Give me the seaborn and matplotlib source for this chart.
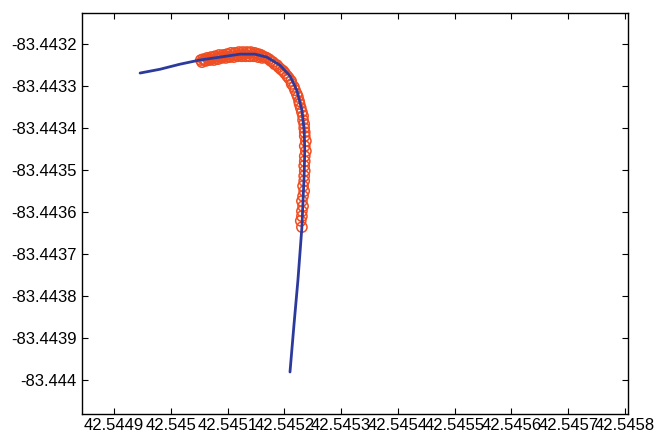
import numpy as np
import pandas as pd
import matplotlib
matplotlib.use("Agg")
import matplotlib.pyplot as plt
import seaborn as sns

# ---- data ----
track_lon = [42.544946, 42.544981, 42.545016, 42.545051, 42.545087, 42.545122,
             42.545148, 42.545169, 42.545192, 42.545210, 42.545222, 42.545231,
             42.545235, 42.545236, 42.545235, 42.545233, 42.545231, 42.545224,
             42.545217, 42.545210]
track_lat = [-83.443269, -83.443260, -83.443248, -83.443238, -83.443231, -83.443224,
             -83.443224, -83.443231, -83.443250, -83.443276, -83.443310, -83.443357,
             -83.443405, -83.443452, -83.443512, -83.443571, -83.443636, -83.443762,
             -83.443869, -83.443981]

pts_lon = [42.545053, 42.545057, 42.545060, 42.545064, 42.545067, 42.545071, 42.545074,
           42.545078, 42.545081, 42.545085, 42.545088, 42.545092, 42.545095, 42.545099,
           42.545102, 42.545106, 42.545110, 42.545113, 42.545117, 42.545120, 42.545124,
           42.545127, 42.545131, 42.545134, 42.545138, 42.545141, 42.545145, 42.545148,
           42.545152, 42.545155, 42.545159, 42.545162, 42.545166, 42.545169, 42.545173,
           42.545176, 42.545180, 42.545183, 42.545187, 42.545190, 42.545194, 42.545198,
           42.545201, 42.545205, 42.545208, 42.545212, 42.545213, 42.545217, 42.545219,
           42.545222, 42.545224, 42.545226, 42.545227, 42.545229, 42.545231, 42.545233,
           42.545233, 42.545235, 42.545235, 42.545236, 42.545236, 42.545238, 42.545236,
           42.545238, 42.545236, 42.545236, 42.545235, 42.545236, 42.545235, 42.545235,
           42.545233, 42.545235, 42.545233, 42.545231, 42.545233, 42.545231, 42.545231,
           42.545229, 42.545231,
           42.545055, 42.545062, 42.545069, 42.545076, 42.545083, 42.545090, 42.545097,
           42.545104, 42.545111, 42.545118, 42.545125, 42.545132, 42.545139, 42.545146,
           42.545154, 42.545161]
pts_lat = [-83.443238, -83.443236, -83.443238, -83.443233, -83.443236, -83.443231, -83.443233,
           -83.443229, -83.443233, -83.443226, -83.443231, -83.443226, -83.443229, -83.443224,
           -83.443229, -83.443221, -83.443226, -83.443221, -83.443226, -83.443219, -83.443224,
           -83.443219, -83.443224, -83.443219, -83.443221, -83.443219, -83.443224, -83.443221,
           -83.443224, -83.443224, -83.443226, -83.443229, -83.443231, -83.443233, -83.443236,
           -83.443240, -83.443243, -83.443248, -83.443250, -83.443255, -83.443260, -83.443264,
           -83.443269, -83.443276, -83.443281, -83.443288, -83.443295, -83.443302, -83.443310,
           -83.443319, -83.443326, -83.443336, -83.443343, -83.443352, -83.443362, -83.443371,
           -83.443381, -83.443390, -83.443400, -83.443410, -83.443419, -83.443431, -83.443443,
           -83.443455, -83.443467, -83.443479, -83.443490, -83.443502, -83.443514, -83.443526,
           -83.443538, -83.443550, -83.443562, -83.443574, -83.443586, -83.443598, -83.443610,
           -83.443621, -83.443636,
           -83.443243, -83.443240, -83.443238, -83.443238, -83.443236, -83.443233, -83.443233,
           -83.443231, -83.443231, -83.443229, -83.443229, -83.443229, -83.443229, -83.443229,
           -83.443231, -83.443233]

xtick_values = [42.5449, 42.5450, 42.5451, 42.5452, 42.5453, 42.5454, 42.5455,
                42.5456, 42.5457, 42.5458]
xtick_labels = ["42.5449", "42.545", "42.5451", "42.5452", "42.5453", "42.5454",
                "42.5455", "42.5456", "42.5457", "42.5458"]
ytick_values = [-83.4432, -83.4433, -83.4434, -83.4435, -83.4436, -83.4437,
                -83.4438, -83.4439, -83.4440]
ytick_labels = ["-83.4432", "-83.4433", "-83.4434", "-83.4435", "-83.4436",
                "-83.4437", "-83.4438", "-83.4439", "-83.444"]

# ---- style ----
sns.set_theme(style="white")
plt.rcParams["font.family"] = ["Liberation Sans", "DejaVu Sans"]

fig = plt.figure(figsize=(6.64, 4.34), dpi=100)
ax = fig.add_axes([82 / 664, 1 - 414 / 434, (628 - 82) / 664, (414 - 13) / 434])

track = pd.DataFrame({"lon": track_lon, "lat": track_lat})
pts = pd.DataFrame({"lon": pts_lon, "lat": pts_lat})

sns.lineplot(data=track, x="lon", y="lat", sort=False, estimator=None,
             color="#2b3a9c", linewidth=2.0, ax=ax)
sns.scatterplot(data=pts, x="lon", y="lat", marker="o", s=54,
                facecolors="none", edgecolor="#ef4d22", linewidth=1.1, ax=ax)

ax.set_xlim(42.5448437, 42.5458053)
ax.set_ylim(-83.444081, -83.443126)
ax.set_xticks(xtick_values)
ax.set_xticklabels(xtick_labels)
ax.set_yticks(ytick_values)
ax.set_yticklabels(ytick_labels)
ax.set_xlabel("")
ax.set_ylabel("")

for sp in ax.spines.values():
    sp.set_visible(True)
    sp.set_color("black")
    sp.set_linewidth(1.0)

ax.tick_params(axis="both", direction="in", length=4, width=0.8, colors="black",
               labelsize=12, top=True, right=True, bottom=True, left=True)
ax.tick_params(axis="x", pad=3)
ax.tick_params(axis="y", pad=4)
ax.grid(False)

fig.savefig("out.png", dpi=100, facecolor="white")
